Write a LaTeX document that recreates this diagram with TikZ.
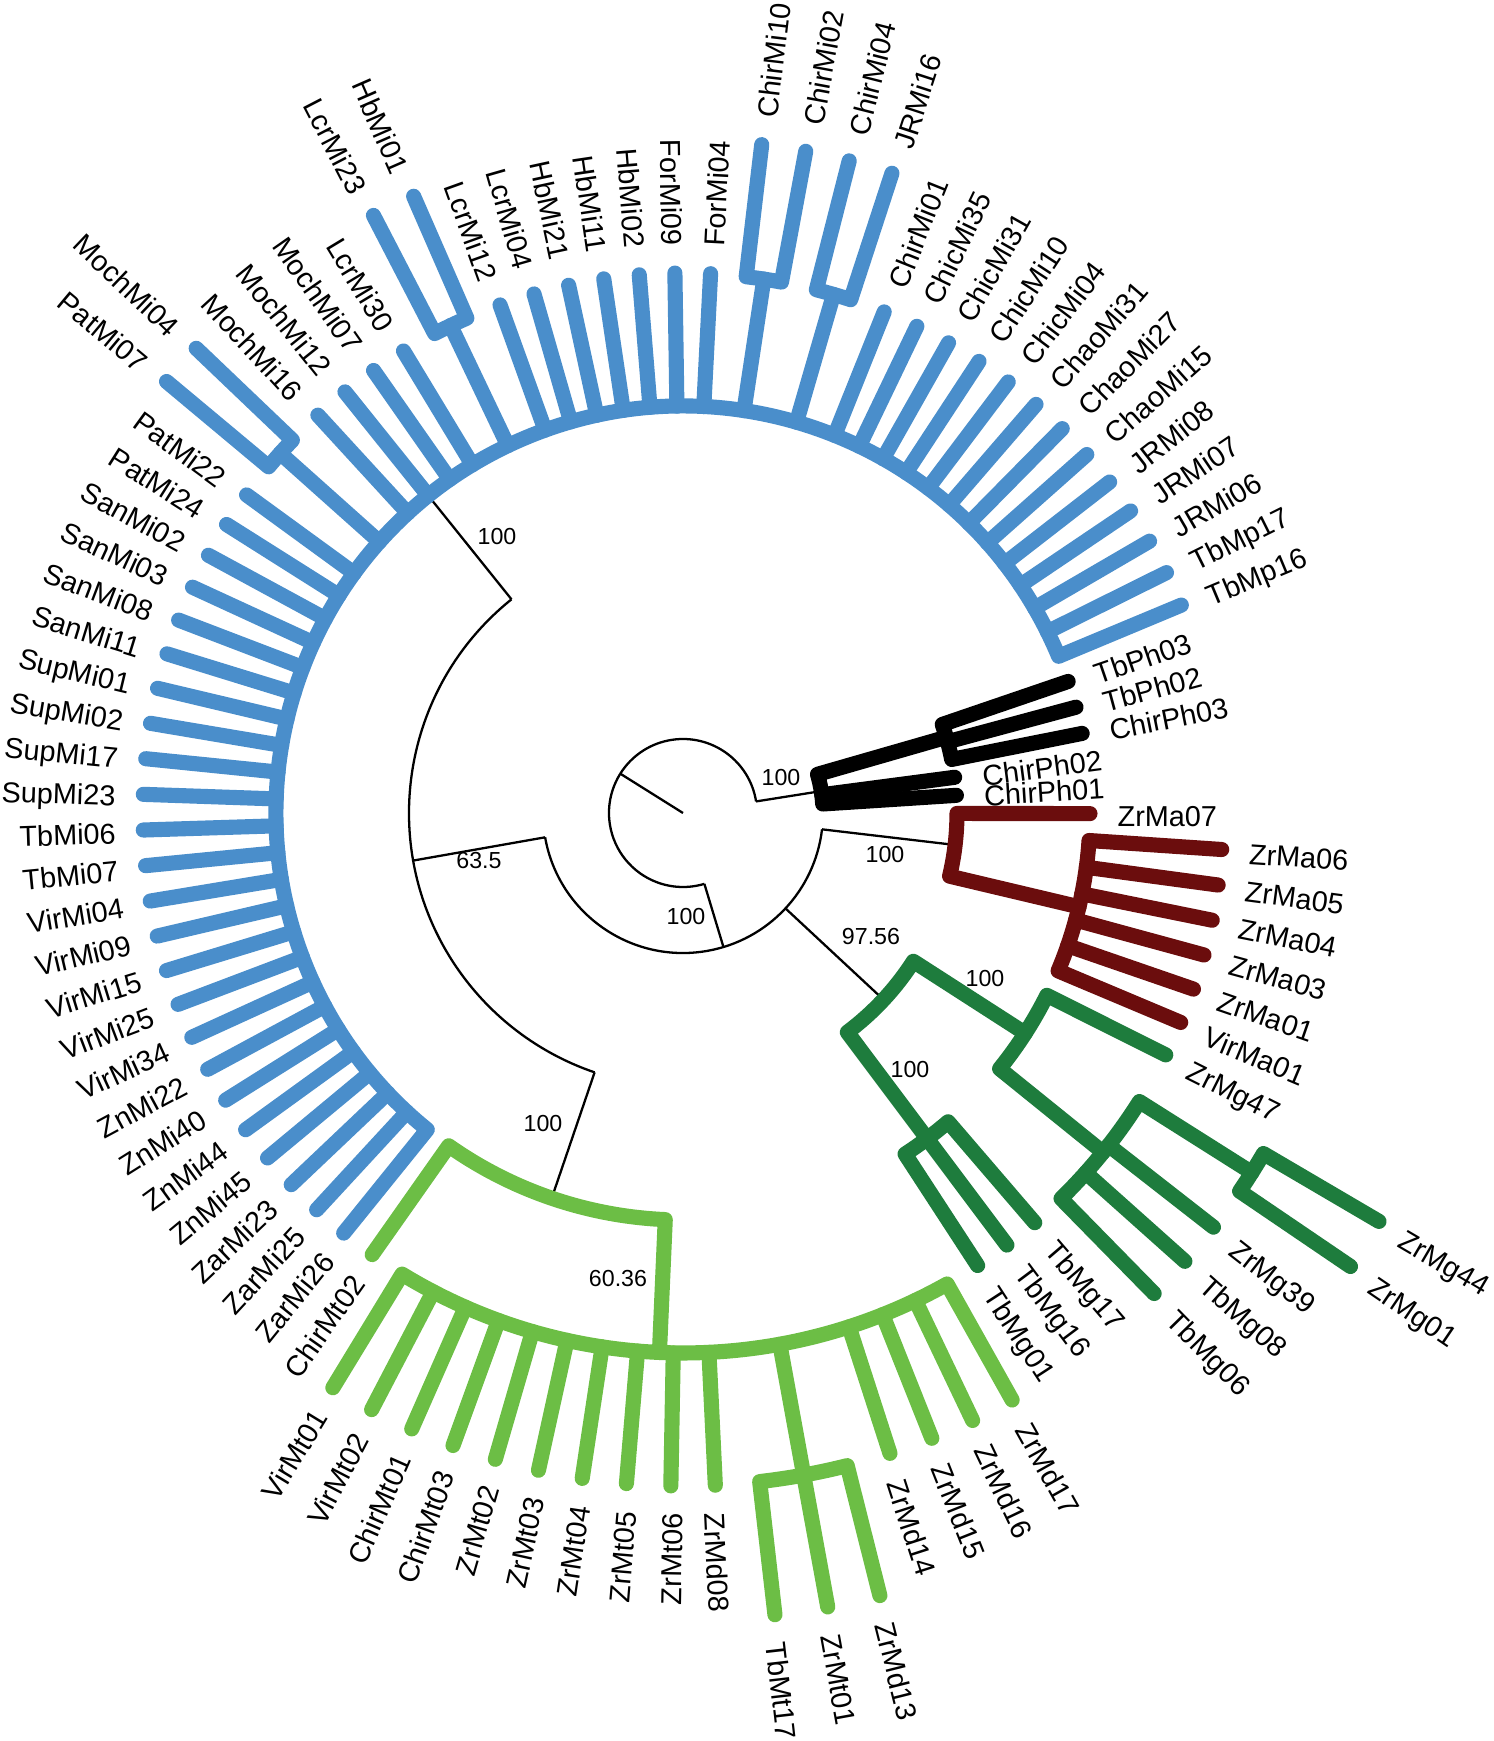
\documentclass[tikz,border=0pt]{standalone}
\usepackage{fontspec}
\setmainfont{Liberation Sans}
\usepackage{tikz}

\definecolor{miblue}{RGB}{74,142,203}
\definecolor{mtgreen}{RGB}{108,190,69}
\definecolor{mggreen}{RGB}{30,124,61}
\definecolor{mared}{RGB}{107,13,13}

\newcommand*{\levA}{140}
\newcommand*{\levB}{274}
\newcommand*{\levC}{407}
\newcommand*{\levD}{540}
\newcommand*{\levE}{673}
\newcommand*{\levF}{807}
\newcommand*{\leafang}[1]{3.7+3.7895*#1}

\newcommand{\leaflab}[3]{%
  \pgfmathsetmacro\lfang{3.7+3.7895*#1}%
  \pgfmathsetmacro\lfrad{#2+27}%
  \pgfmathtruncatemacro\lfflip{and(\lfang>90,\lfang<270)}%
  \ifnum\lfflip=1
    \node[leaf,anchor=east,rotate=\lfang-180] (#3) at (\lfang:\lfrad) {#3};
  \else
    \node[leaf,anchor=west,rotate=\lfang] (#3) at (\lfang:\lfrad) {#3};
  \fi}

\tikzset{
  thinbranch/.style={line width=0.65pt},
  clade/.style={line width=4.3pt,line cap=round,line join=round},
  leaf/.style={font=\fontsize{8.2}{9.8}\selectfont,inner sep=0pt,text height=0.72em,text depth=0pt},
  boot/.style={font=\fontsize{6.6}{8}\selectfont,inner sep=0pt}
}

\begin{document}
\begin{tikzpicture}[x=0.01cm,y=0.01cm]
\useasboundingbox (-683,-928) rectangle (811,813);

\draw[thinbranch] (0,0) -- (147.9:74);
\draw[thinbranch] (9:74) arc[start angle=9,end angle=286.8,radius=74];
\draw[thinbranch] (9:74) -- (9:\levA);
\draw[thinbranch] (286.8:74) -- (286.8:\levA);
\draw[thinbranch] (190:\levA) arc[start angle=190,end angle=353.3,radius=\levA];
\draw[thinbranch] (190:\levA) -- (190:\levB);
\draw[thinbranch] (317.05:\levA) -- (317.05:\levB);
\draw[thinbranch] (353.3:\levA) -- (353.3:\levB);
\draw[thinbranch] (128.75:\levB) arc[start angle=128.75,end angle=251.18,radius=\levB];
\draw[thinbranch] (128.75:\levB) -- (128.75:\levC);
\draw[thinbranch] (251.18:\levB) -- (251.18:\levC);

% Ph
\draw[clade,black] ({\leafang{0}}:\levB) -- ({\leafang{0}}:\levA) arc[start angle={\leafang{0}},end angle=16.05,radius=\levA] -- (16.05:\levB);
\draw[clade,black] ({\leafang{1}}:\levA) -- ({\leafang{1}}:\levB);
\draw[clade,black] ({\leafang{2}}:\levC) -- ({\leafang{2}}:\levB) arc[start angle={\leafang{2}},end angle={\leafang{4}},radius=\levB] -- ({\leafang{4}}:\levC);
\draw[clade,black] ({\leafang{3}}:\levB) -- ({\leafang{3}}:\levC);

% Mi
\draw[clade,miblue] ({\leafang{5}}:\levD) -- ({\leafang{5}}:\levC) arc[start angle={\leafang{5}},end angle={\leafang{60}},radius=\levC] -- ({\leafang{60}}:\levD);
\foreach \i in {6,...,17} \draw[clade,miblue] ({\leafang{\i}}:\levC) -- ({\leafang{\i}}:\levD);
\foreach \i in {22,...,28} \draw[clade,miblue] ({\leafang{\i}}:\levC) -- ({\leafang{\i}}:\levD);
\foreach \i in {31,...,34} \draw[clade,miblue] ({\leafang{\i}}:\levC) -- ({\leafang{\i}}:\levD);
\foreach \i in {37,...,59} \draw[clade,miblue] ({\leafang{\i}}:\levC) -- ({\leafang{\i}}:\levD);
\foreach \a/\b in {18/19,20/21,29/30,35/36} {
  \draw[clade,miblue] ({\leafang{(\a+0.5)}}:\levC) -- ({\leafang{(\a+0.5)}}:\levD);
  \draw[clade,miblue] ({\leafang{\a}}:\levE) -- ({\leafang{\a}}:\levD) arc[start angle={\leafang{\a}},end angle={\leafang{\b}},radius=\levD] -- ({\leafang{\b}}:\levE);
}

% Mt
\draw[clade,mtgreen] ({\leafang{61}}:\levD) -- ({\leafang{61}}:\levC) arc[start angle={\leafang{61}},end angle=267.5,radius=\levC] -- (267.5:\levD);
\draw[clade,mtgreen] ({\leafang{62}}:\levE) -- ({\leafang{62}}:\levD) arc[start angle={\leafang{62}},end angle={\leafang{78}},radius=\levD] -- ({\leafang{78}}:\levE);
\foreach \i in {63,...,71} \draw[clade,mtgreen] ({\leafang{\i}}:\levD) -- ({\leafang{\i}}:\levE);
\foreach \i in {73,75,76,77} \draw[clade,mtgreen] ({\leafang{\i}}:\levD) -- ({\leafang{\i}}:\levE);
\draw[clade,mtgreen] ({\leafang{72}}:\levF) -- ({\leafang{72}}:\levE) arc[start angle={\leafang{72}},end angle={\leafang{74}},radius=\levE] -- ({\leafang{74}}:\levF);
\draw[clade,mtgreen] ({\leafang{73}}:\levE) -- ({\leafang{73}}:\levF);

% Mg
\draw[clade,mggreen] (306.86:\levC) -- (306.86:\levB) arc[start angle=306.86,end angle=327.23,radius=\levB] -- (327.23:\levC);
\draw[clade,mggreen] ({\leafang{79}}:\levD) -- ({\leafang{79}}:\levC) arc[start angle={\leafang{79}},end angle={\leafang{81}},radius=\levC] -- ({\leafang{81}}:\levD);
\draw[clade,mggreen] ({\leafang{80}}:\levC) -- ({\leafang{80}}:\levD);
\draw[clade,mggreen] (321.07:\levD) -- (321.07:\levC) arc[start angle=321.07,end angle={\leafang{87}},radius=\levC] -- ({\leafang{87}}:\levD);
\draw[clade,mggreen] ({\leafang{82}}:\levE) -- ({\leafang{82}}:\levD) arc[start angle={\leafang{82}},end angle=327.7,radius=\levD] -- (327.7:\levE);
\foreach \i in {83,84} \draw[clade,mggreen] ({\leafang{\i}}:\levD) -- ({\leafang{\i}}:\levE);
\draw[clade,mggreen] ({\leafang{85}}:\levF) -- ({\leafang{85}}:\levE) arc[start angle={\leafang{85}},end angle={\leafang{86}},radius=\levE] -- ({\leafang{86}}:\levF);

% Ma
\draw[clade,mared] ({\leafang{94}}:\levC) -- ({\leafang{94}}:\levB) arc[start angle={\leafang{94}},end angle=346.67,radius=\levB] -- (346.67:\levC);
\draw[clade,mared] ({\leafang{93}}:\levD) -- ({\leafang{93}}:\levC) arc[start angle={\leafang{93}},end angle={\leafang{88}},radius=\levC] -- ({\leafang{88}}:\levD);
\foreach \i in {89,...,92} \draw[clade,mared] ({\leafang{\i}}:\levC) -- ({\leafang{\i}}:\levD);

\node[boot] (bsmi) at (-186,276) {100};
\node[boot] (bsmain) at (-204,-48) {63.5};
\node[boot] (bsmt) at (-140,-311) {100};
\node[boot] (bsmtb) at (-65,-466) {60.36};
\node[boot] (bsin) at (3,-104) {100};
\node[boot] (bsph) at (98,35) {100};
\node[boot] (bsma) at (202,-42) {100};
\node[boot] (bsmg) at (188,-124) {97.56};
\node[boot] (bsmgb) at (302,-166) {100};
\node[boot] (bsmgc) at (227,-257) {100};

\foreach \i/\n in {0/ChirPh01,1/ChirPh02} {\leaflab{\i}{\levB}{\n}}
\foreach \i/\n in {2/ChirPh03,3/TbPh02,4/TbPh03,94/ZrMa07} {\leaflab{\i}{\levC}{\n}}
\foreach \i/\n in {5/TbMp16,6/TbMp17,7/JRMi06,8/JRMi07,9/JRMi08,10/ChaoMi15,11/ChaoMi27,12/ChaoMi31,13/ChicMi04,14/ChicMi10,15/ChicMi31,16/ChicMi35,17/ChirMi01,22/ForMi04,23/ForMi09,24/HbMi02,25/HbMi11,26/HbMi21,27/LcrMi04,28/LcrMi12,31/LcrMi30,32/MochMi07,33/MochMi12,34/MochMi16,37/PatMi22,38/PatMi24,39/SanMi02,40/SanMi03,41/SanMi08,42/SanMi11,43/SupMi01,44/SupMi02,45/SupMi17,46/SupMi23,47/TbMi06,48/TbMi07,49/VirMi04,50/VirMi09,51/VirMi15,52/VirMi25,53/VirMi34,54/ZnMi22,55/ZnMi40,56/ZnMi44,57/ZnMi45,58/ZarMi23,59/ZarMi25,60/ZarMi26,61/ChirMt02,79/TbMg01,80/TbMg16,81/TbMg17,87/ZrMg47,88/VirMa01,89/ZrMa01,90/ZrMa03,91/ZrMa04,92/ZrMa05,93/ZrMa06} {\leaflab{\i}{\levD}{\n}}
\foreach \i/\n in {18/JRMi16,19/ChirMi04,20/ChirMi02,21/ChirMi10,29/HbMi01,30/LcrMi23,35/MochMi04,36/PatMi07,62/VirMt01,63/VirMt02,64/ChirMt01,65/ChirMt03,66/ZrMt02,67/ZrMt03,68/ZrMt04,69/ZrMt05,70/ZrMt06,71/ZrMd08,75/ZrMd14,76/ZrMd15,77/ZrMd16,78/ZrMd17,82/TbMg06,83/TbMg08,84/ZrMg39} {\leaflab{\i}{\levE}{\n}}
\foreach \i/\n in {72/TbMt17,73/ZrMt01,74/ZrMd13,85/ZrMg01,86/ZrMg44} {\leaflab{\i}{\levF}{\n}}

\end{tikzpicture}
\end{document}
